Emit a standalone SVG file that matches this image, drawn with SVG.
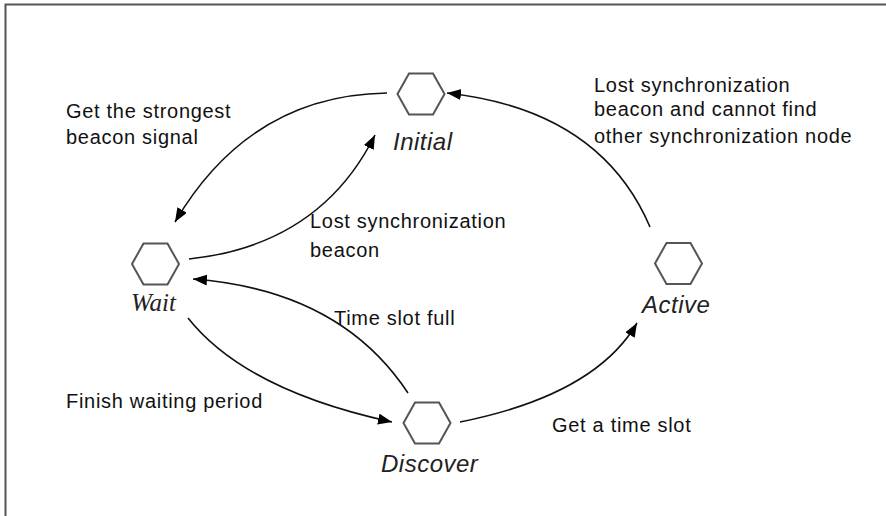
<svg xmlns="http://www.w3.org/2000/svg" width="886" height="516" viewBox="0 0 886 516">
<style>
.hex{fill:#fff;stroke:#555;stroke-width:2}
.edge{fill:none;stroke:#111;stroke-width:1.6;marker-end:url(#arr)}
.lbl{font-family:"Liberation Sans",Arial,sans-serif;font-size:20px;letter-spacing:0.7px;fill:#111}
.node{font-family:"Liberation Sans",Arial,sans-serif;font-size:24px;font-style:italic;letter-spacing:0.5px;fill:#222}
.serif{font-family:"Liberation Serif","Times New Roman",serif;font-size:25px;letter-spacing:0}
</style>
<defs>
<marker id="arr" markerUnits="userSpaceOnUse" markerWidth="16" markerHeight="12" refX="14" refY="5.5" orient="auto">
<path d="M0,0 L14,5.5 L0,11 z" fill="#000"/>
</marker>
<polygon id="hexShape" class="hex" points="-23.5,0 -12,-20.5 12,-20.5 23.5,0 12,20.5 -12,20.5"/>
</defs>
<rect x="5.5" y="4.5" width="900" height="600" fill="#fff" stroke="#555" stroke-width="2"/>
<g id="connectors">
<path class="edge" d="M387,93 Q250,95 175,222"/>
<path class="edge" d="M189,259 Q320,245 375,135"/>
<path class="edge" d="M408,393 Q340,290 193,279"/>
<path class="edge" d="M188,318 Q245,390 392,422"/>
<path class="edge" d="M460,422 Q595,395 637,323"/>
<path class="edge" d="M650,227 Q600,110 447,93"/>
</g>
<g id="node-initial">
<use href="#hexShape" transform="translate(421,94)"/>
<text class="node" x="393" y="150">Initial</text>
</g>
<g id="node-wait">
<use href="#hexShape" transform="translate(155.5,264)"/>
<text class="node serif" x="131" y="311">Wait</text>
</g>
<g id="node-discover">
<use href="#hexShape" transform="translate(427,423)"/>
<text class="node" x="381" y="472">Discover</text>
</g>
<g id="node-active">
<use href="#hexShape" transform="translate(678.5,263.5)"/>
<text class="node" x="642" y="313">Active</text>
</g>
<g id="labels">
<text class="lbl" x="66" y="118">Get the strongest</text>
<text class="lbl" x="66" y="144">beacon signal</text>
<text class="lbl" x="310" y="228">Lost synchronization</text>
<text class="lbl" x="310" y="257">beacon</text>
<text class="lbl" x="334" y="325">Time slot full</text>
<text class="lbl" x="66" y="408">Finish waiting period</text>
<text class="lbl" x="552" y="432">Get a time slot</text>
<text class="lbl" x="594" y="92">Lost synchronization</text>
<text class="lbl" x="594" y="116">beacon and cannot find</text>
<text class="lbl" x="594" y="143">other synchronization node</text>
</g>
</svg>
